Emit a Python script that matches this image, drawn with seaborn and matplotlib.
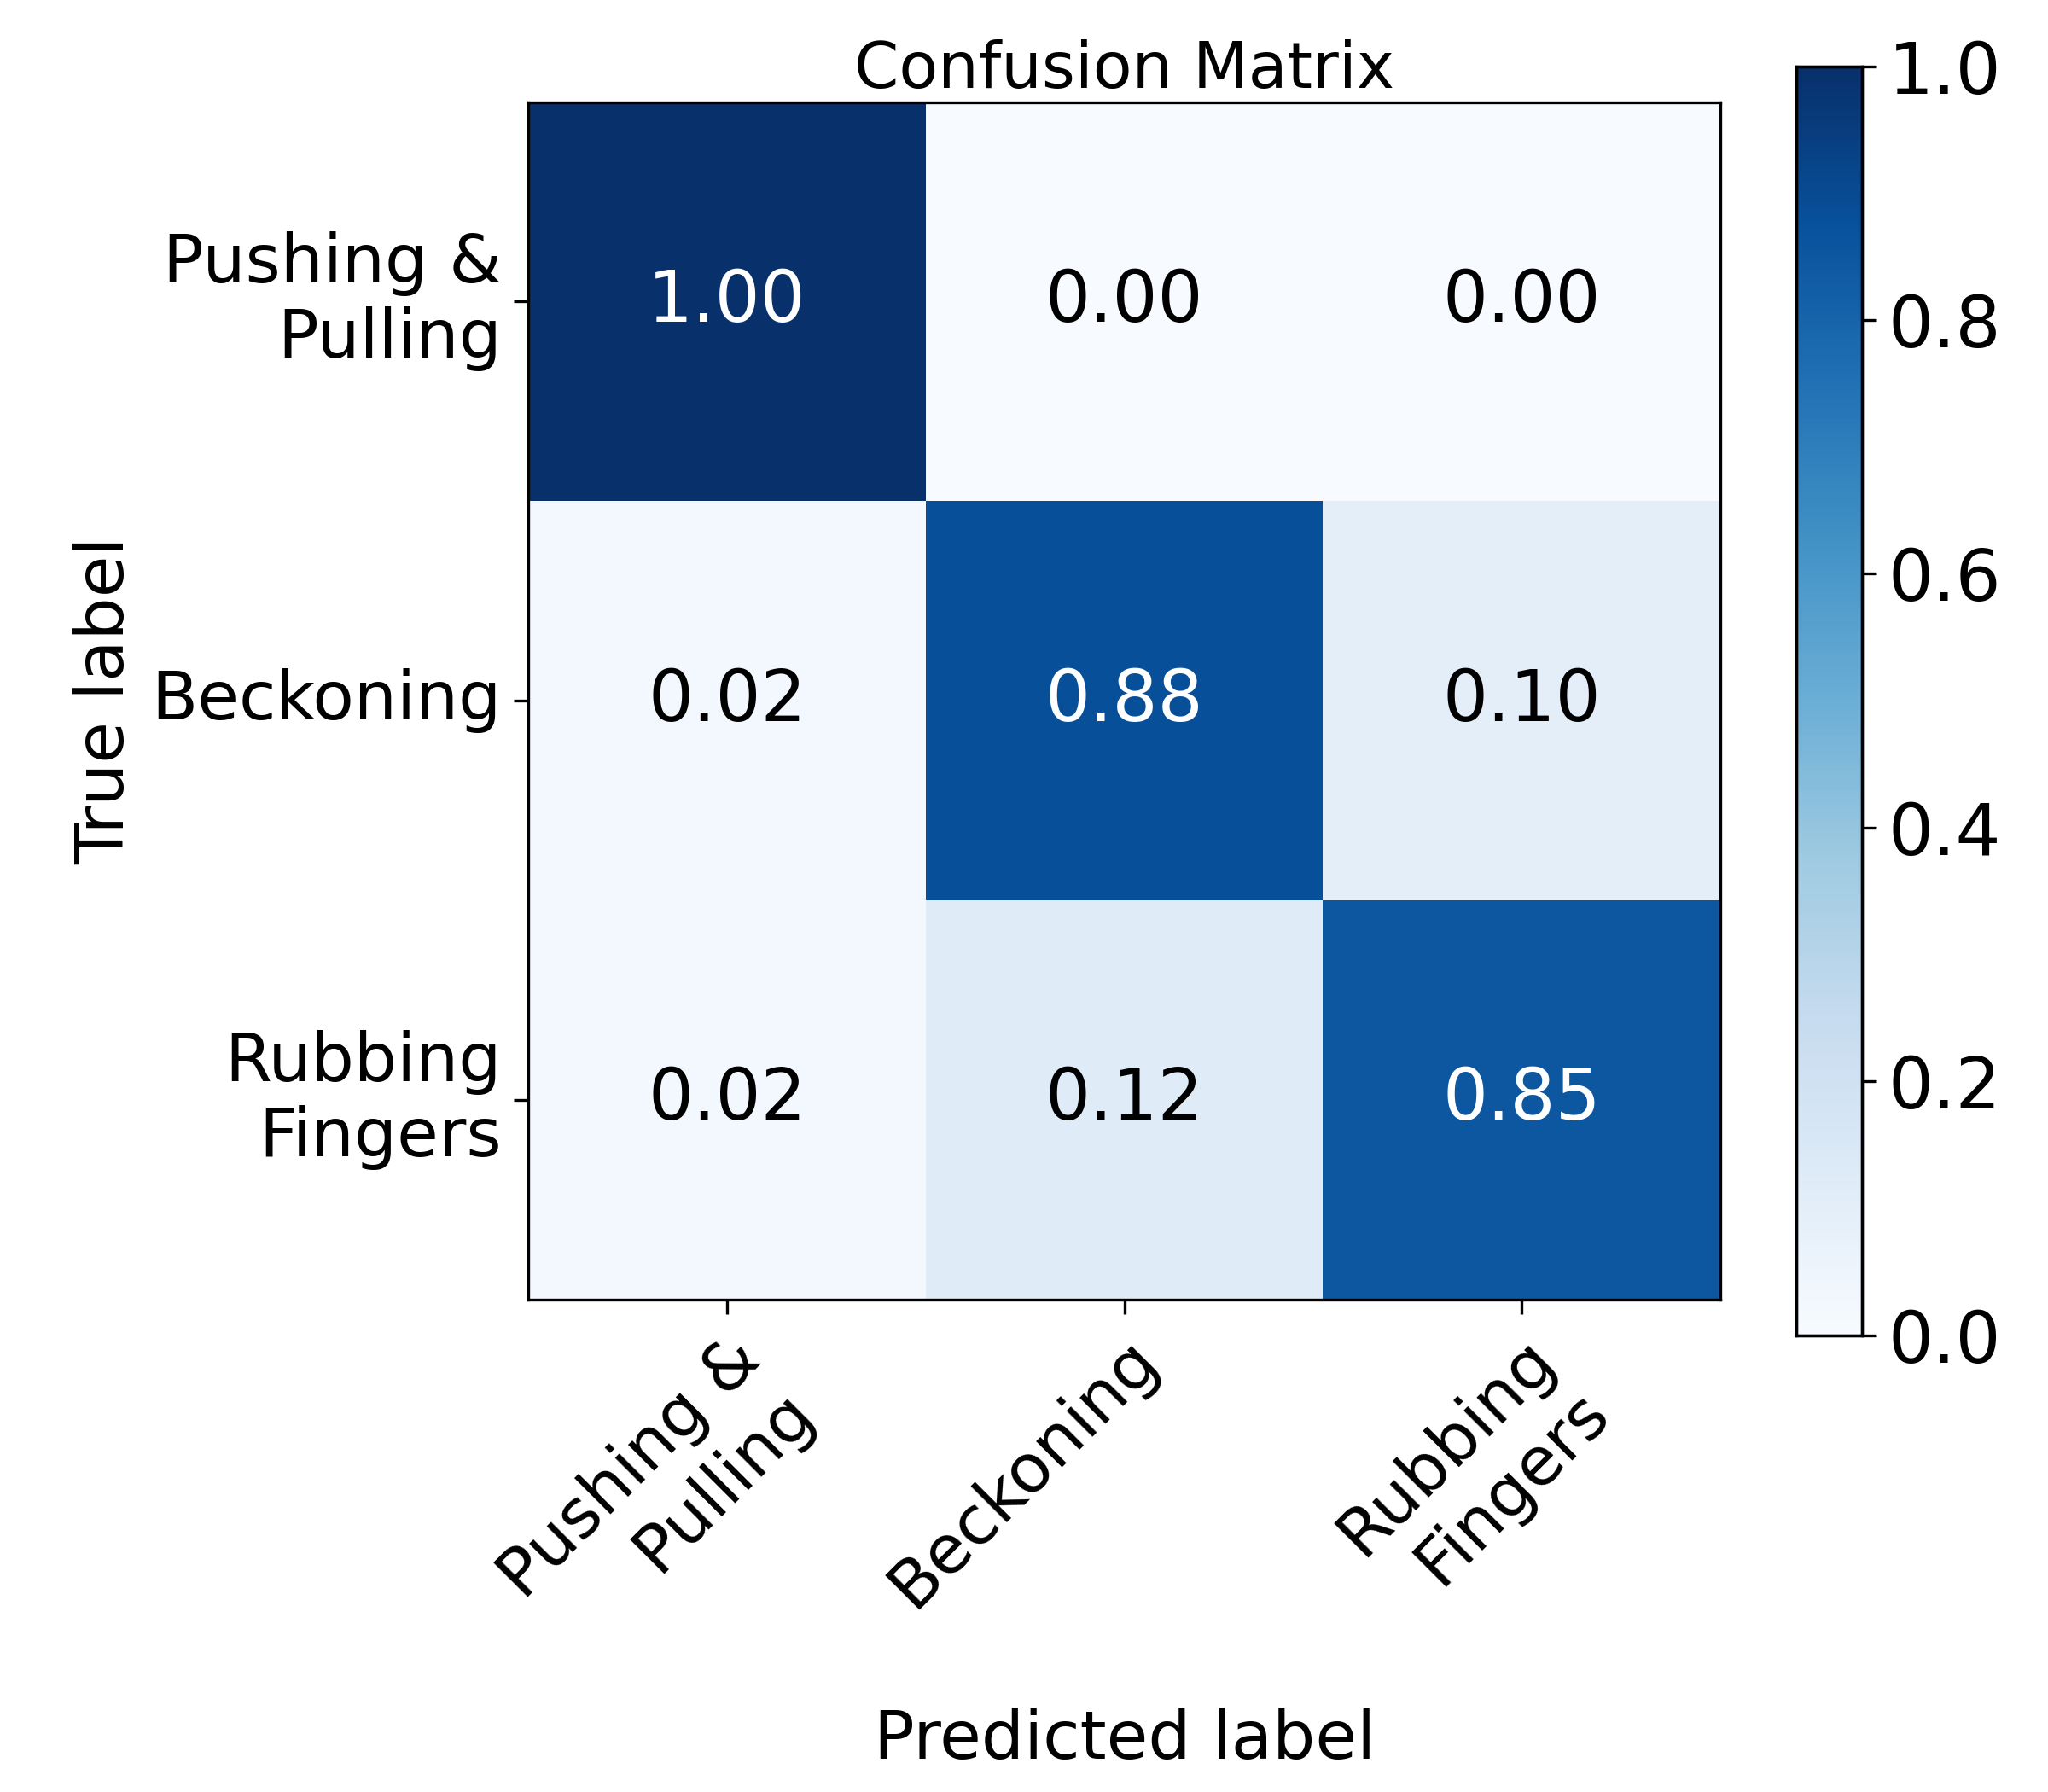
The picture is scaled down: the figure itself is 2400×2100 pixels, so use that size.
import numpy as np
import matplotlib
matplotlib.use("Agg")
import matplotlib.pyplot as plt
import seaborn as sns

classes = ["Pushing &\nPulling", "Beckoning", "Rubbing\nFingers"]
row_push = [1.00, 0.00, 0.00]
row_beck = [0.02, 0.88, 0.10]
row_rub = [0.02, 0.12, 0.85]
cm = np.array([row_push, row_beck, row_rub])

plt.rcParams['font.family'] = ['DejaVu Sans']
fig = plt.figure(figsize=(8, 7), dpi=300)
ax = fig.add_axes([0.258, 0.275, 0.582, 0.668])
cax = fig.add_axes([0.877, 0.255, 0.032, 0.708])
sns.heatmap(cm, ax=ax, cbar_ax=cax, cmap="Blues", vmin=0, vmax=1,
            annot=True, fmt=".2f", annot_kws={"fontsize": 20},
            xticklabels=classes, yticklabels=classes, square=False)
for t in ax.texts:
    v = float(t.get_text())
    t.set_color("white" if v > 0.5 else "black")
for s in ax.spines.values():
    s.set_visible(True); s.set_linewidth(0.8)
ax.tick_params(length=4, width=0.8, labelsize=19)
plt.setp(ax.get_xticklabels(), rotation=45, ha="right", rotation_mode="anchor")
plt.setp(ax.get_yticklabels(), rotation=0, ha="right")
ax.set_title("Confusion Matrix", fontsize=18, pad=4)
ax.set_xlabel("Predicted label", fontsize=19, labelpad=12)
ax.set_ylabel("True label", fontsize=19)
cax.tick_params(labelsize=20, length=4, width=0.8)
cax.set_yticks([0, 0.2, 0.4, 0.6, 0.8, 1.0])
for s in cax.spines.values():
    s.set_visible(True); s.set_linewidth(0.8)
fig.savefig("out.png", dpi=300)
